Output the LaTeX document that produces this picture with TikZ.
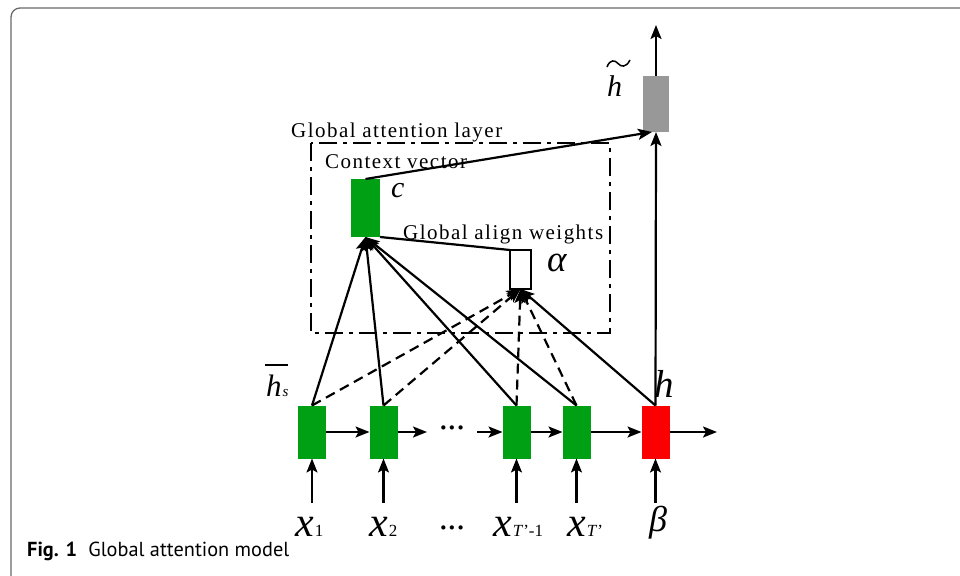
\documentclass[tikz,border=0pt]{standalone}
\usepackage{fontspec}
\setmainfont{Liberation Serif}
\newfontfamily\lblfont[LetterSpace=7]{Liberation Serif}
\newfontfamily\capfont{PT Sans}
\usetikzlibrary{arrows.meta}
\definecolor{boxgreen}{RGB}{0,160,20}
\definecolor{boxred}{RGB}{250,0,0}
\definecolor{boxgray}{RGB}{152,152,152}
\definecolor{framegray}{RGB}{105,105,105}
\begin{document}
\begin{tikzpicture}[x=1pt,y=-1pt,
  cell/.style={draw=none, minimum width=28pt, minimum height=53pt, inner sep=0pt, outer sep=0pt},
  conn/.style={line width=2.2pt, -{Stealth[length=14pt,width=11pt,inset=3pt]}},
  plainline/.style={line width=2.2pt},
  dconn/.style={line width=2.2pt, dash pattern=on 10pt off 6pt, -{Stealth[length=14pt,width=11pt,inset=3pt]}},
  lbl/.style={font=\lblfont\fontsize{21}{24}\selectfont, inner sep=0pt, anchor=base west},
  sym/.style={inner sep=0pt, anchor=base west}]
\useasboundingbox (0,0) rectangle (960,575);
\fill[white] (0,0) rectangle (960,575);
% frame
\draw[framegray, line width=1.3pt, rounded corners=9pt] (11,600) -- (11,8) -- (980,8);
% caption
\node[anchor=base west, inner sep=0pt, font=\capfont\fontsize{20.3}{24}\selectfont] (cap) at (27,556) {\textbf{Fig. 1}\hspace{0.55em}Global attention model};
% attention frame
\draw[line width=2.2pt, dash pattern=on 18pt off 6pt on 4pt off 6pt] (311,143) rectangle (610,333);
% cells
\node[cell, fill=boxgreen] (b1) at (312,432) {};
\node[cell, fill=boxgreen] (b2) at (383.5,432) {};
\node[cell, fill=boxgreen] (b3) at (516.5,432) {};
\node[cell, fill=boxgreen] (b4) at (576.5,432) {};
\node[cell, fill=boxred] (r) at (655.5,432) {};
\node[cell, fill=boxgray, minimum width=26pt, minimum height=56pt] (g) at (656,104) {};
\node[cell, fill=boxgreen, minimum width=29pt, minimum height=58pt] (c) at (365.5,208) {};
\node[cell, draw, line width=2.2pt, fill=white, minimum width=21pt, minimum height=39pt] (a) at (520.5,269.5) {};
% texts
\node[lbl] (gal) at (291,137) {Global attention layer};
\node[lbl] (cv) at (325,168) {Context vector};
\node[lbl] (gaw) at (403,239) {Global align weights};
% coordinates
\coordinate (in1) at (312,503);
\coordinate (in2) at (383.5,503);
\coordinate (in3) at (516.5,503);
\coordinate (in4) at (576.5,503);
\coordinate (in5) at (655.5,503);
\coordinate (d1) at (427,432);
\coordinate (d2) at (477,432);
\coordinate (out) at (717,432);
\coordinate (top) at (656,25);
\node[inner sep=0pt, font=\fontsize{26}{26}\selectfont\bfseries] (dotsrow) at (452,431) {···};
% connectors: inputs
\foreach \i/\b in {in1/b1,in2/b2,in3/b3,in4/b4,in5/r} \draw[conn] (\i) -- (\b.south);
% horizontal
\draw[conn] (b1.east) -- (b2.west);
\draw[conn] (b2.east) -- (d1);
\draw[conn] (d2) -- (b3.west);
\draw[conn] (b3.east) -- (b4.west);
\draw[conn] (b4.east) -- (r.west);
\draw[conn] (r.east) -- (out);
% to alpha (dashed)
\foreach \b in {b1,b2,b3,b4} \draw[dconn] (\b.north) -- (a.south);
\draw[conn] (r.north) -- (a.south);
% to context
\foreach \b in {b1,b2,b3,b4} \draw[conn] (\b.north) -- (c.south);
\draw[plainline] (c.south east) -- (a.north west);
\draw[conn] (r.north) -- (g.south);
\draw[conn] (c.north) -- ([xshift=-4pt]g.south);
\draw[conn] (g.north) -- (top);
% math labels
\node[sym, font=\itshape\fontsize{30}{30}\selectfont] (cl) at (391,197) {c};
\node[sym, font=\itshape\fontsize{37}{38}\selectfont] (al) at (547,271) {α};
\node[sym, font=\itshape\fontsize{30}{30}\selectfont] (ht) at (607,97) {h};
\draw[line width=1.5pt] (607,67) .. controls (610,59) and (615,60) .. (618,63.5) .. controls (621,67) and (626,68) .. (630,60);
\node[sym, font=\itshape\fontsize{31}{31}\selectfont] (hs) at (266,396) {h\kern1pt{\fontsize{15}{15}\selectfont s}};
\draw[line width=1.6pt] (265,365) -- (288,365);
\node[sym, font=\itshape\fontsize{39}{40}\selectfont] (hl) at (654,397) {h};
\node[sym, font=\fontsize{42}{42}\selectfont] (x1) at (295,536) {\textit{x}\kern1pt{\fontsize{17}{17}\selectfont 1}};
\node[sym, font=\fontsize{42}{42}\selectfont] (x2) at (369,536) {\textit{x}\kern1pt{\fontsize{17}{17}\selectfont 2}};
\node[inner sep=0pt, font=\fontsize{26}{26}\selectfont\bfseries] (dotsx) at (452,531) {···};
\node[sym, font=\fontsize{42}{42}\selectfont] (x3) at (493,536) {\textit{x}\kern1pt{\fontsize{17}{17}\selectfont\textit{T}\char"27-1}};
\node[sym, font=\fontsize{42}{42}\selectfont] (x4) at (567,536) {\textit{x}\kern1pt{\fontsize{17}{17}\selectfont\textit{T}\char"27}};
\node[sym, font=\itshape\fontsize{36}{36}\selectfont] (be) at (649,531) {β};
\end{tikzpicture}
\end{document}
